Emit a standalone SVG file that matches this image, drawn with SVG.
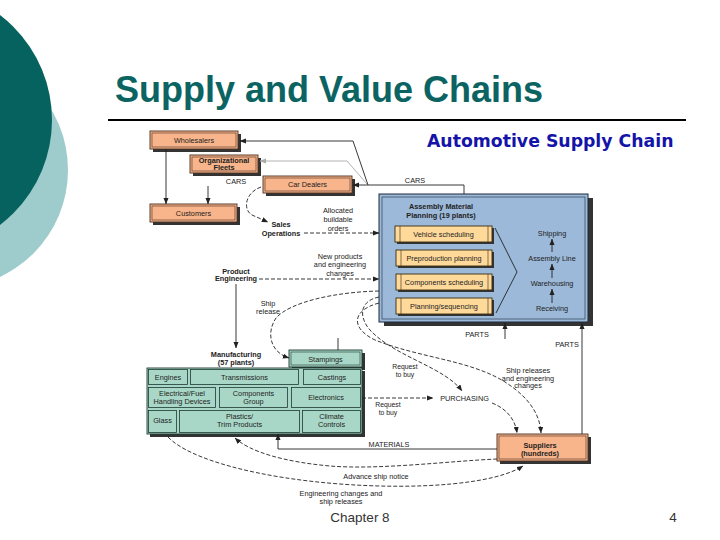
<svg xmlns="http://www.w3.org/2000/svg" width="720" height="540" viewBox="0 0 720 540">
<defs>
<style>
.t{font-family:"Liberation Sans",Arial,sans-serif;font-size:7.3px;fill:#222;text-anchor:middle}
.s{font-size:6.8px}
.b{font-weight:bold}
.sh{fill:#333}
.or{fill:#f8b48a;stroke:#4a3020;stroke-width:0.9}
.tl{fill:#a9d7c7;stroke:#1e3a32;stroke-width:0.9}
.bl{fill:#9cb9d9;stroke:#1d2a3a;stroke-width:1}
.yl{fill:#fed99a;stroke:#3a2a10;stroke-width:0.9}
.in{fill:none;stroke-width:0.6}
.ln{fill:none;stroke:#222;stroke-width:0.9}
.ds{fill:none;stroke:#222;stroke-width:0.9;stroke-dasharray:4 2}
</style>
<marker id="ah" viewBox="0 0 10 8" refX="9.5" refY="4" markerWidth="6.5" markerHeight="5.2" markerUnits="userSpaceOnUse" orient="auto"><path d="M0,0 L10,4 L0,8 z" fill="#222"/></marker>
<marker id="ag" viewBox="0 0 10 8" refX="9.5" refY="4" markerWidth="6.5" markerHeight="5.2" markerUnits="userSpaceOnUse" orient="auto"><path d="M0,0 L10,4 L0,8 z" fill="#aaa"/></marker>
</defs>
<rect width="720" height="540" fill="#fff"/>
<g id="decoration">
<circle cx="-50" cy="170" r="118" fill="#9ecbcb"/>
<circle cx="-80" cy="120" r="132" fill="#05625f"/>
</g>
<g id="title">
<text x="115" y="102" style="font-family:'Liberation Sans',Arial,sans-serif;font-size:36px;font-weight:bold;fill:#0b6462">Supply and Value Chains</text>
<line x1="108" y1="120" x2="686" y2="120" stroke="#000" stroke-width="2"/>
<text x="427" y="147" style="font-family:'DejaVu Sans',Verdana,sans-serif;font-size:17.3px;font-weight:bold;fill:#1414a8">Automotive Supply Chain</text>
</g>
<g id="wholesalers">
<rect class="sh" x="153" y="134" width="88" height="18"/>
<rect class="or" x="150" y="131" width="88" height="18"/>
<rect class="in" x="152" y="133" width="84" height="14" stroke="#4a3020"/>
<text class="t" x="194" y="143">Wholesalers</text>
</g>
<g id="fleets">
<rect class="sh" x="193" y="158" width="68" height="18"/>
<rect class="or" x="190" y="155" width="68" height="18"/>
<rect class="in" x="192" y="157" width="64" height="14" stroke="#4a3020"/>
<text class="t b" x="224" y="162.5">Organizational</text>
<text class="t b" x="224" y="170">Fleets</text>
</g>
<text class="t" x="236" y="183.5">CARS</text>
<text class="t" x="415" y="183">CARS</text>
<g id="dealers">
<rect class="sh" x="266" y="179" width="89" height="17"/>
<rect class="or" x="263" y="176" width="89" height="17"/>
<rect class="in" x="265" y="178" width="85" height="13" stroke="#4a3020"/>
<text class="t" x="307.5" y="187">Car Dealers</text>
</g>
<g id="customers">
<rect class="sh" x="153" y="207" width="87" height="18"/>
<rect class="or" x="150" y="204" width="87" height="18"/>
<rect class="in" x="152" y="206" width="83" height="14" stroke="#4a3020"/>
<text class="t" x="193.5" y="215.5">Customers</text>
</g>
<g id="sales">
<text class="t b" x="281" y="227">Sales</text>
<text class="t b" x="281" y="236">Operations</text>
</g>
<g id="allocated">
<text class="t" x="338" y="213">Allocated</text>
<text class="t" x="338" y="222">buildable</text>
<text class="t" x="338" y="230.5">orders</text>
</g>
<g id="product-eng">
<text class="t b" x="236" y="273.5">Product</text>
<text class="t b" x="236" y="281">Engineering</text>
</g>
<g id="newproducts">
<text class="t" x="340" y="259">New products</text>
<text class="t" x="340" y="267">and engineering</text>
<text class="t" x="340" y="276">changes</text>
</g>
<g id="shiprelease">
<text class="t" x="268" y="306">Ship</text>
<text class="t" x="268" y="314">release</text>
</g>
<g id="assembly">
<rect class="sh" x="384" y="198" width="209" height="128"/>
<rect class="bl" x="379" y="194" width="209" height="128"/>
<rect class="in" x="382" y="197" width="203" height="122" stroke="#1d2a3a"/>
<text class="t b" x="441" y="209">Assembly Material</text>
<text class="t b" x="441" y="217.5">Planning (19 plants)</text>
<text class="t" x="552" y="236">Shipping</text>
<text class="t" x="552" y="261">Assembly Line</text>
<text class="t" x="552" y="286">Warehousing</text>
<text class="t" x="552" y="311">Receiving</text>
</g>
<g id="vehicle">
<rect class="sh" x="397" y="228" width="97" height="16"/>
<rect class="yl" x="395" y="226" width="97" height="16"/>
<path class="in" d="M400 226 V242 M488 226 V242" stroke="#3a2a10"/>
<text class="t" x="443.5" y="236.5">Vehicle scheduling</text>
</g>
<g id="preproduction">
<rect class="sh" x="398" y="252" width="96" height="16"/>
<rect class="yl" x="396" y="250" width="96" height="16"/>
<path class="in" d="M401 250 V266 M488 250 V266" stroke="#3a2a10"/>
<text class="t" x="444" y="260.5">Preproduction planning</text>
</g>
<g id="components-sched">
<rect class="sh" x="398" y="276" width="96" height="16"/>
<rect class="yl" x="396" y="274" width="96" height="16"/>
<path class="in" d="M401 274 V290 M488 274 V290" stroke="#3a2a10"/>
<text class="t" x="444" y="284.5">Components scheduling</text>
</g>
<g id="planning">
<rect class="sh" x="398" y="300" width="96" height="16"/>
<rect class="yl" x="396" y="298" width="96" height="16"/>
<path class="in" d="M401 298 V314 M488 298 V314" stroke="#3a2a10"/>
<text class="t" x="444" y="308.5">Planning/sequencing</text>
</g>
<text class="t" x="477" y="337">PARTS</text>
<text class="t" x="567" y="347">PARTS</text>
<g id="manufacturing">
<text class="t b" x="236" y="357">Manufacturing</text>
<text class="t b" x="236" y="365">(57 plants)</text>
</g>
<g id="stampings">
<rect class="sh" x="292" y="353" width="73" height="17"/>
<rect class="tl" x="289" y="350" width="73" height="17"/>
<rect class="in" x="291" y="352" width="69" height="13" stroke="#1e3a32"/>
<text class="t" x="325.5" y="361.5">Stampings</text>
</g>
<g id="plants">
<rect class="sh" x="150" y="371" width="215" height="66"/>
<rect class="tl" x="147" y="368" width="215" height="66"/>
<g fill="none" stroke="#1e3a32" stroke-width="0.8">
<rect x="148.5" y="369.5" width="39" height="15"/>
<rect x="190.5" y="369.5" width="108" height="15"/>
<rect x="303.5" y="369.5" width="57" height="15"/>
<rect x="148.5" y="387.5" width="67" height="20"/>
<rect x="219.5" y="387.5" width="68" height="20"/>
<rect x="291.5" y="387.5" width="69" height="20"/>
<rect x="148.5" y="410.5" width="28" height="22"/>
<rect x="179.5" y="410.5" width="120" height="22"/>
<rect x="302.5" y="410.5" width="58" height="22"/>
</g>
<text class="t" x="168" y="380">Engines</text>
<text class="t" x="244.5" y="380">Transmissions</text>
<text class="t" x="332" y="380">Castings</text>
<text class="t" x="182" y="395.5">Electrical/Fuel</text>
<text class="t" x="182" y="403.5">Handling Devices</text>
<text class="t" x="253.5" y="395.5">Components</text>
<text class="t" x="253.5" y="403.5">Group</text>
<text class="t" x="326" y="400">Electronics</text>
<text class="t" x="162.5" y="423">Glass</text>
<text class="t" x="239.5" y="419">Plastics/</text>
<text class="t" x="239.5" y="427">Trim Products</text>
<text class="t" x="331.5" y="419">Climate</text>
<text class="t" x="331.5" y="427">Controls</text>
</g>
<g id="requests">
<text class="t s" x="405" y="369">Request</text>
<text class="t s" x="405" y="376.5">to buy</text>
<text class="t s" x="388" y="407">Request</text>
<text class="t s" x="388" y="414.5">to buy</text>
</g>
<g id="purchasing">
<text class="t" x="464.5" y="400.5">PURCHASING</text>
</g>
<g id="shipreleases">
<text class="t" x="528" y="373">Ship releases</text>
<text class="t" x="528" y="380.5">and engineering</text>
<text class="t" x="528" y="388">changes</text>
</g>
<text class="t" x="389" y="446.5">MATERIALS</text>
<g id="suppliers">
<rect class="sh" x="500" y="437" width="91" height="27"/>
<rect class="or" x="497" y="434" width="91" height="27"/>
<rect class="in" x="499" y="436" width="87" height="23" stroke="#4a3020"/>
<text class="t b" x="540" y="447.5">Suppliers</text>
<text class="t b" x="540" y="456">(hundreds)</text>
</g>
<text class="t" x="376" y="478.5">Advance ship notice</text>
<text class="t" x="341" y="496">Engineering changes and</text>
<text class="t" x="341" y="503.5">ship releases</text>
<g id="connectors">
<path class="ln" d="M368 185 L353 141 L240 141" marker-end="url(#ah)"/>
<path d="M367 184 L347 161 L260 161" fill="none" stroke="#aaa" stroke-width="0.9" marker-end="url(#ag)"/>
<path class="ln" d="M464 194 L464 185 L353 185" marker-end="url(#ah)"/>
<path class="ln" d="M166 149 L166 204" marker-end="url(#ah)"/>
<path class="ln" d="M208 186 L208 204" marker-end="url(#ah)"/>
<path class="ds" d="M261 187 C246 192 242 209 252 215 L268 222" marker-end="url(#ah)"/>
<path class="ds" d="M304 233 L379 233" marker-end="url(#ah)"/>
<path class="ds" d="M259 279 L379 279" marker-end="url(#ah)"/>
<path class="ln" d="M236 284 L236 348" marker-end="url(#ah)"/>
<path class="ds" d="M379 291 C335 292 290 302 276 318 C266 333 270 352 289 358" marker-end="url(#ah)"/>
<path class="ds" d="M379 297 C358 301 358 320 374 334 C400 358 445 368 462 391" marker-end="url(#ah)"/>
<path class="ds" d="M379 303 C352 310 350 328 375 340 C420 358 470 360 505 382 C530 398 540 415 541 433" marker-end="url(#ah)"/>
<path class="ln" d="M338 350 L338 338"/>
<path class="ln" d="M495 228 L517 272 L496 313"/>
<path class="ln" d="M552 252 L552 239" marker-end="url(#ah)"/>
<path class="ln" d="M552 278 L552 264" marker-end="url(#ah)"/>
<path class="ln" d="M552 303 L552 289" marker-end="url(#ah)"/>
<path class="ln" d="M505 339 L505 323" marker-end="url(#ah)"/>
<path class="ln" d="M582 434 L582 323" marker-end="url(#ah)"/>
<path class="ds" d="M362 398 L433 398" marker-end="url(#ah)"/>
<path class="ds" d="M492 403 C505 408 515 418 517 433" marker-end="url(#ah)"/>
<path class="ln" d="M497 449 L278 449 L278 434" marker-end="url(#ah)"/>
<path class="ds" d="M497 459 C450 461 380 470 330 466 C285 462 250 452 235 438" marker-end="url(#ah)"/>
<path class="ds" d="M168 437 C190 460 260 478 340 484 C420 490 495 484 523 466" marker-end="url(#ah)"/>
</g>
<g id="footer">
<text x="360" y="522" style="font-family:'Liberation Sans',Arial,sans-serif;font-size:13.5px;fill:#333;text-anchor:middle">Chapter 8</text>
<text x="673" y="522" style="font-family:'Liberation Sans',Arial,sans-serif;font-size:13.5px;fill:#333;text-anchor:middle">4</text>
</g>
</svg>
